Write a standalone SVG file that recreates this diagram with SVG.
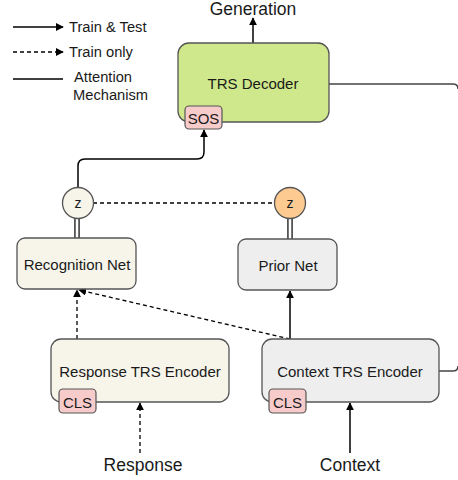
<svg xmlns="http://www.w3.org/2000/svg" width="458" height="480" viewBox="0 0 458 480">
<defs>
<marker id="ah" viewBox="0 0 10 10" refX="9" refY="5" markerWidth="8" markerHeight="8" markerUnits="userSpaceOnUse" orient="auto">
<path d="M0,0 L10,5 L0,10 z" fill="#000"/>
</marker>
<style>
text{font-family:"Liberation Sans",Arial,sans-serif;fill:#1a1a1a}
.t{font-size:15px;text-anchor:middle}
.lab{font-size:17.5px;text-anchor:middle}
.leg{font-size:14.7px}
.box{stroke:#555;stroke-width:1.3}
.tag{fill:#f8cbcb;stroke:#555;stroke-width:1.2}
.c{fill:none;stroke:#000;stroke-width:1.5}
.d{fill:none;stroke:#000;stroke-width:1.3;stroke-dasharray:4,3}
.att{fill:none;stroke:#444;stroke-width:1.5}
.dbo{stroke:#555;stroke-width:6}
.dbi{stroke:#fff;stroke-width:2.4}
</style>
</defs>

<g id="legend">
<line class="c" x1="13" y1="27" x2="63" y2="27" marker-end="url(#ah)"/>
<text class="leg" x="69" y="32">Train &amp; Test</text>
<line class="d" x1="13" y1="52" x2="63" y2="52" marker-end="url(#ah)"/>
<text class="leg" x="69" y="57">Train only</text>
<line class="c" x1="13" y1="79" x2="63" y2="79"/>
<text class="leg" x="74" y="82">Attention</text>
<text class="leg" x="73" y="100">Mechanism</text>
</g>

<g id="connectors">
<line class="c" x1="253" y1="43" x2="253" y2="18" marker-end="url(#ah)"/>
<path class="c" d="M78,188 V166 Q78,159 85,159 H197 Q204,159 204,152 V130" marker-end="url(#ah)"/>
<line class="d" x1="93" y1="203" x2="274" y2="203"/>
<line class="dbo" x1="77" y1="218" x2="77" y2="238"/>
<line class="dbi" x1="77" y1="218" x2="77" y2="238"/>
<line class="dbo" x1="290" y1="218" x2="290" y2="239"/>
<line class="dbi" x1="290" y1="218" x2="290" y2="239"/>
<line class="d" x1="77" y1="339" x2="77" y2="290" marker-end="url(#ah)"/>
<line class="d" x1="290" y1="339" x2="79" y2="290" marker-end="url(#ah)"/>
<line class="c" x1="290" y1="339" x2="290" y2="291" marker-end="url(#ah)"/>
<line class="d" x1="140" y1="453" x2="140" y2="403" marker-end="url(#ah)"/>
<line class="c" x1="350" y1="453" x2="350" y2="403" marker-end="url(#ah)"/>
<path class="att" d="M329,84 H453 Q458,84 458,89"/>
<path class="att" d="M439,371 H453 Q458,371 458,366"/>
</g>

<g id="generation"><text class="lab" x="253" y="15">Generation</text></g>

<g id="decoder">
<rect class="box" x="178" y="43" width="151" height="79" rx="11" fill="#cfe88c"/>
<text class="t" x="253" y="89">TRS Decoder</text>
<rect class="tag" x="185" y="106" width="37" height="23" rx="4"/>
<text class="t" x="203.5" y="124">SOS</text>
</g>

<g id="z-recog">
<circle cx="78" cy="203" r="15.5" fill="#f7f4ea" stroke="#555" stroke-width="1.3"/>
<text class="t" x="78" y="208" style="font-size:14px">z</text>
</g>

<g id="z-prior">
<circle cx="290" cy="203" r="15.5" fill="#fdca92" stroke="#555" stroke-width="1.3"/>
<text class="t" x="290" y="208" style="font-size:14px">z</text>
</g>

<g id="recognition-net">
<rect class="box" x="17" y="238" width="119" height="51" rx="8" fill="#f7f4ea"/>
<text class="t" x="77" y="270">Recognition Net</text>
</g>

<g id="prior-net">
<rect class="box" x="238" y="239" width="99" height="51" rx="8" fill="#eeeeee"/>
<text class="t" x="288" y="271">Prior Net</text>
</g>

<g id="response-encoder">
<rect class="box" x="51" y="339" width="178" height="63" rx="10" fill="#f7f4ea"/>
<text class="t" x="140" y="377">Response TRS Encoder</text>
<rect class="tag" x="59" y="389" width="37" height="24" rx="4"/>
<text class="t" x="77.5" y="408">CLS</text>
</g>

<g id="context-encoder">
<rect class="box" x="262" y="339" width="177" height="63" rx="10" fill="#eeeeee"/>
<text class="t" x="350" y="377">Context TRS Encoder</text>
<rect class="tag" x="269" y="389" width="37" height="24" rx="4"/>
<text class="t" x="287.5" y="408">CLS</text>
</g>

<g id="response-label"><text class="lab" x="143" y="471">Response</text></g>
<g id="context-label"><text class="lab" x="350" y="471">Context</text></g>
</svg>
